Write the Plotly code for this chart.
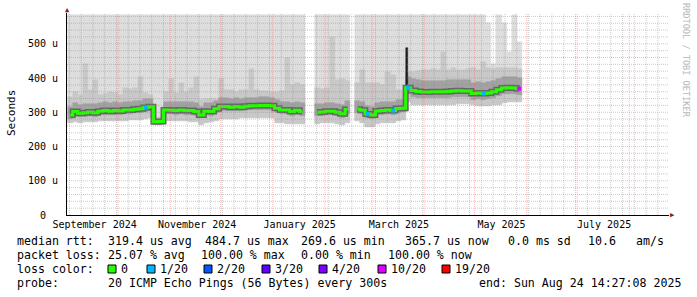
import plotly.graph_objects as go
import pandas as pd

# ---------------- data ----------------
# 3-day samples, centres starting 2024-09-02 12:00
sample_dates = pd.date_range("2024-09-02 12:00", periods=90, freq="3D")

median_us = [292, 302, 297, 299, 301, 299, 303, 305, 303, 305,
             304, 307, 307, 309, 310, 314, 316, 272, 273, 307,
             306, 305, 307, 305, 305, 302, 292, 303, 302, 310,
             317, 317, 315, 317, 315, 318, 319, 319, 320, 320,
             319, 312, 307, 307, 302, 306, 302, None, None, 300,
             301, 303, 303, 300, 296, 308, None, 309, 306, 295,
             292, 304, 305, 307, 305, 311, 312, 372, 364, 361,
             359, 359, 360, 360, 360, 361, 362, 363, 362, 362,
             355, 356, 355, 356, 360, 366, 371, 372, 371, 369]

smoke_low = [268, 272, 270, 272, 273, 272, 274, 275, 274, 276,
             275, 276, 277, 278, 278, 280, 282, 262, 262, 276,
             276, 275, 275, 274, 273, 272, 262, 270, 272, 274,
             280, 279, 280, 279, 282, 282, 283, 282, 283, 282,
             282, 270, 268, 267, 265, 266, 266, None, None, 266,
             268, 270, 270, 266, 262, 270, None, 274, 270, 258,
             258, 266, 268, 270, 268, 275, 277, 330, 322, 320,
             320, 320, 322, 322, 322, 322, 322, 324, 324, 324,
             322, 318, 318, 318, 320, 322, 326, 330, 330, 330]

smoke_mid_low = [280, 290, 285, 287, 289, 287, 291, 293, 291, 293,
                 292, 295, 295, 297, 298, 302, 304, 266, 266, 295,
                 294, 293, 295, 293, 293, 290, 282, 291, 290, 298,
                 305, 305, 303, 305, 303, 306, 307, 307, 308, 308,
                 307, 300, 295, 295, 290, 294, 290, None, None, 288,
                 289, 291, 291, 288, 284, 296, None, 297, 294, 282,
                 280, 292, 293, 295, 293, 299, 300, 352, 346, 343,
                 341, 341, 342, 342, 342, 343, 344, 345, 344, 344,
                 337, 338, 337, 338, 342, 348, 353, 354, 353, 351]

smoke_mid_high = [316, 326, 321, 323, 325, 323, 327, 329, 327, 329,
                  328, 331, 331, 333, 334, 338, 340, 280, 280, 331,
                  330, 329, 331, 329, 329, 326, 316, 327, 326, 334,
                  341, 341, 339, 341, 339, 342, 343, 343, 344, 344,
                  343, 336, 331, 331, 326, 330, 326, None, None, 324,
                  325, 327, 327, 324, 320, 332, None, 333, 330, 319,
                  316, 328, 329, 331, 329, 335, 336, 404, 396, 393,
                  391, 391, 392, 392, 392, 393, 394, 395, 394, 394,
                  387, 388, 387, 388, 392, 398, 403, 404, 403, 401]

smoke_high = [345, 360, 350, 440, 365, 395, 350, 352, 360, 355,
              350, 370, 368, 372, 403, 356, 350, 285, 285, 360,
              397, 357, 385, 360, 370, 403, 336, 340, 338, 340,
              397, 365, 365, 360, 365, 366, 426, 365, 362, 362,
              360, 358, 362, 460, 380, 385, 380, None, None, 370,
              368, 372, 520, 395, 398, 392, None, 385, 424, 385,
              385, 385, 380, 418, 410, 365, 365, 418, 418, 420,
              424, 424, 425, 424, 477, 424, 428, 424, 424, 426,
              428, 424, 447, 428, 427, 428, 430, 428, 428, 426]

smoke_top = [585, 585, 585, 585, 585, 585, 585, 585, 585, 585,
             585, 585, 585, 585, 585, 585, 585, 585, 585, 585,
             585, 585, 585, 585, 585, 585, 585, 585, 585, 585,
             585, 585, 585, 585, 585, 585, 585, 585, 585, 585,
             585, 585, 585, 585, 585, 585, 585, None, None, 585,
             585, 585, 585, 585, 585, 585, None, 585, 585, 585,
             585, 585, 585, 585, 585, 585, 585, 585, 585, 585,
             585, 585, 585, 585, 585, 585, 585, 585, 585, 585,
             585, 585, 585, 560, 440, 585, 560, 475, 585, 505]

loss_count = [0, 0, 0, 0, 0, 0, 0, 0, 0, 0,
              0, 0, 0, 0, 0, 1, 0, 0, 0, 0,
              0, 0, 0, 0, 0, 0, 0, 0, 0, 0,
              0, 0, 0, 0, 0, 0, 0, 0, 0, 0,
              0, 0, 0, 0, 0, 0, 0, 0, 0, 0,
              0, 0, 0, 0, 0, 0, 0, 0, 0, 1,
              0, 0, 0, 0, 1, 0, 0, 1, 0, 0,
              0, 0, 0, 0, 0, 0, 0, 0, 0, 0,
              0, 0, 1, 0, 0, 0, 0, 0, 0, 10]

spike_date = ["2025-03-21 19:00"]
spike_low = [305]
spike_high = [488]

loss_levels = ["0", "1/20", "2/20", "3/20", "4/20", "10/20", "19/20"]
loss_colors = ["#26ff00", "#00b8ff", "#0059ff", "#5e00ff", "#7e00ff", "#dd00ff", "#ff0000"]
loss_color_by_count = {0: "#26ff00", 1: "#00b8ff", 2: "#0059ff", 3: "#5e00ff",
                       4: "#7e00ff", 10: "#dd00ff", 19: "#ff0000"}

x_tick_dates = ["2024-09-17", "2024-11-17", "2025-01-17", "2025-03-17", "2025-05-17", "2025-07-17"]
x_tick_labels = ["September 2024", "November 2024", "January 2025", "March 2025", "May 2025", "July 2025"]
y_tick_values = [0, 100, 200, 300, 400, 500]
y_tick_labels = ["0\u00a0\u00a0", "100 u", "200 u", "300 u", "400 u", "500 u"]

range_start = "2024-08-31 14:27:08"
range_end = "2025-08-24 14:27:08"
y_max = 590

legend_line1 = [(16, "median rtt:"), (107, "319.4 us avg"), (204, "484.7 us max"),
                (300, "269.6 us min"), (404, "365.7 us now"), (507, "0.0 ms sd"),
                (587, "10.6"), (635, "am/s")]
legend_line2 = [(16, "packet loss:"), (107, "25.07 % avg"), (200, "100.00 % max"),
                (300, "0.00 % min"), (387, "100.00 % now")]
legend_line3_label = (16, "loss color:")
legend_square_x = [108, 147, 204, 262, 319, 378, 442]
legend_line4 = [(16, "probe:"), (107, "20 ICMP Echo Pings (56 Bytes) every 300s"),
                (478, "end: Sun Aug 24 14:27:08 2025")]

# ---------------- layout geometry ----------------
W, H = 697, 297
L, R, T, B = 67, 28, 13, 82
PW, PH = W - L - R, H - T - B
MONO = "DejaVu Sans Mono"
DAY_MS = 86400000


def px(x):
    return (x - L) / PW


def py(y):
    return (H - B - y) / PH


def band(base, top, color, width_days=3, xs=None):
    xs = sample_dates if xs is None else xs
    h = [(t - b) if (t is not None and b is not None) else None for b, t in zip(base, top)]
    return go.Bar(x=xs, y=h, base=base, width=width_days * DAY_MS,
                  marker=dict(color=color, line=dict(color=color, width=0.5)),
                  hoverinfo="skip", showlegend=False)


fig = go.Figure()
fig.add_trace(band(smoke_low, smoke_top, "#dddddd"))
fig.add_trace(band(smoke_low, smoke_high, "#c8c8c8"))
fig.add_trace(band(smoke_mid_low, smoke_mid_high, "#a2a2a2"))
fig.add_trace(band(spike_low, spike_high, "#1e1e1e", width_days=1.2, xs=pd.to_datetime(spike_date)))
fig.add_trace(go.Scatter(x=sample_dates, y=median_us, mode="lines",
                         line=dict(shape="hvh", color="#666666", width=6),
                         hoverinfo="skip", showlegend=False))
fig.add_trace(go.Scatter(x=sample_dates, y=median_us, mode="lines",
                         line=dict(shape="hvh", color="#26ff00", width=3),
                         hoverinfo="skip", showlegend=False))
lx = [d for d, c in zip(sample_dates, loss_count) if c > 0]
ly = [m for m, c in zip(median_us, loss_count) if c > 0]
lc = [loss_color_by_count[c] for c in loss_count if c > 0]
fig.add_trace(go.Scatter(x=lx, y=ly, mode="markers",
                         marker=dict(symbol="square", size=4, color=lc, line=dict(width=0)),
                         hoverinfo="skip", showlegend=False))

# ---------------- grid (drawn above the smoke, like rrdtool) ----------------
shapes = []
minor_c = "rgba(140,140,140,0.45)"
major_c = "rgba(225,90,90,0.4)"
for d in pd.date_range("2024-09-02", range_end, freq="7D"):
    shapes.append(dict(type="line", xref="x", yref="paper", x0=d, x1=d, y0=0, y1=1,
                       line=dict(color=minor_c, width=1, dash="1px,1px"), layer="above"))
for d in pd.date_range("2024-10-01", range_end, freq="MS"):
    shapes.append(dict(type="line", xref="x", yref="paper", x0=d, x1=d, y0=0, y1=1,
                       line=dict(color=major_c, width=1, dash="1px,1px"), layer="above"))
for v in range(20, y_max, 20):
    c = major_c if v % 100 == 0 else minor_c
    shapes.append(dict(type="line", xref="paper", yref="y", x0=0, x1=1, y0=v, y1=v,
                       line=dict(color=c, width=1, dash="1px,1px"), layer="above"))

# legend colour squares
sq_top, sq_bot = 265, 273
for xs, col in zip(legend_square_x, loss_colors):
    shapes.append(dict(type="rect", xref="paper", yref="paper",
                       x0=px(xs), x1=px(xs + 8), y0=py(sq_bot), y1=py(sq_top),
                       fillcolor=col, line=dict(color="black", width=1)))

# ---------------- annotations ----------------
ann = []


def text(x, y, s, size=11.6, color="black", **kw):
    ann.append(dict(x=px(x), y=py(y), xref="paper", yref="paper", text=s, showarrow=False,
                    xanchor=kw.pop("xanchor", "left"), yanchor="middle", borderpad=0,
                    font=dict(family=MONO, size=size, color=color), **kw))


for x, s in legend_line1:
    text(x, 241, s)
for x, s in legend_line2:
    text(x, 255, s)
text(legend_line3_label[0], 269, legend_line3_label[1])
for xs, lab in zip(legend_square_x, loss_levels):
    text(xs + 12, 269, lab)
for x, s in legend_line4:
    text(x, 283, s)

text(11, 113, "Seconds", size=11, xanchor="center", textangle=-90)
text(686, 60, "RRDTOOL / TOBI OETIKER", size=8.6, color="#b8b8b8", xanchor="center", textangle=90)
# axis arrows
text(67, 10, "\u25b2", size=7, color="#8b1a1a", xanchor="center")
text(672, 215, "\u25b6", size=7, color="#8b1a1a", xanchor="center")

fig.update_layout(
    width=W, height=H,
    margin=dict(l=L, r=R, t=T, b=B, pad=0),
    paper_bgcolor="white", plot_bgcolor="white",
    barmode="overlay", bargap=0,
    shapes=shapes, annotations=ann,
    showlegend=False,
    xaxis=dict(type="date", range=[range_start, range_end], showgrid=False, zeroline=False,
               tickmode="array", tickvals=x_tick_dates, ticktext=x_tick_labels,
               tickfont=dict(family=MONO, size=10, color="black"), ticks="",
               showline=True, linecolor="black", linewidth=1, fixedrange=True),
    yaxis=dict(range=[0, y_max], showgrid=False, zeroline=False,
               tickmode="array", tickvals=y_tick_values, ticktext=y_tick_labels,
               tickfont=dict(family=MONO, size=10, color="black"), ticks="",
               ticklabelstandoff=6,
               showline=True, linecolor="black", linewidth=1, fixedrange=True),
)

fig.write_html("out.html")
